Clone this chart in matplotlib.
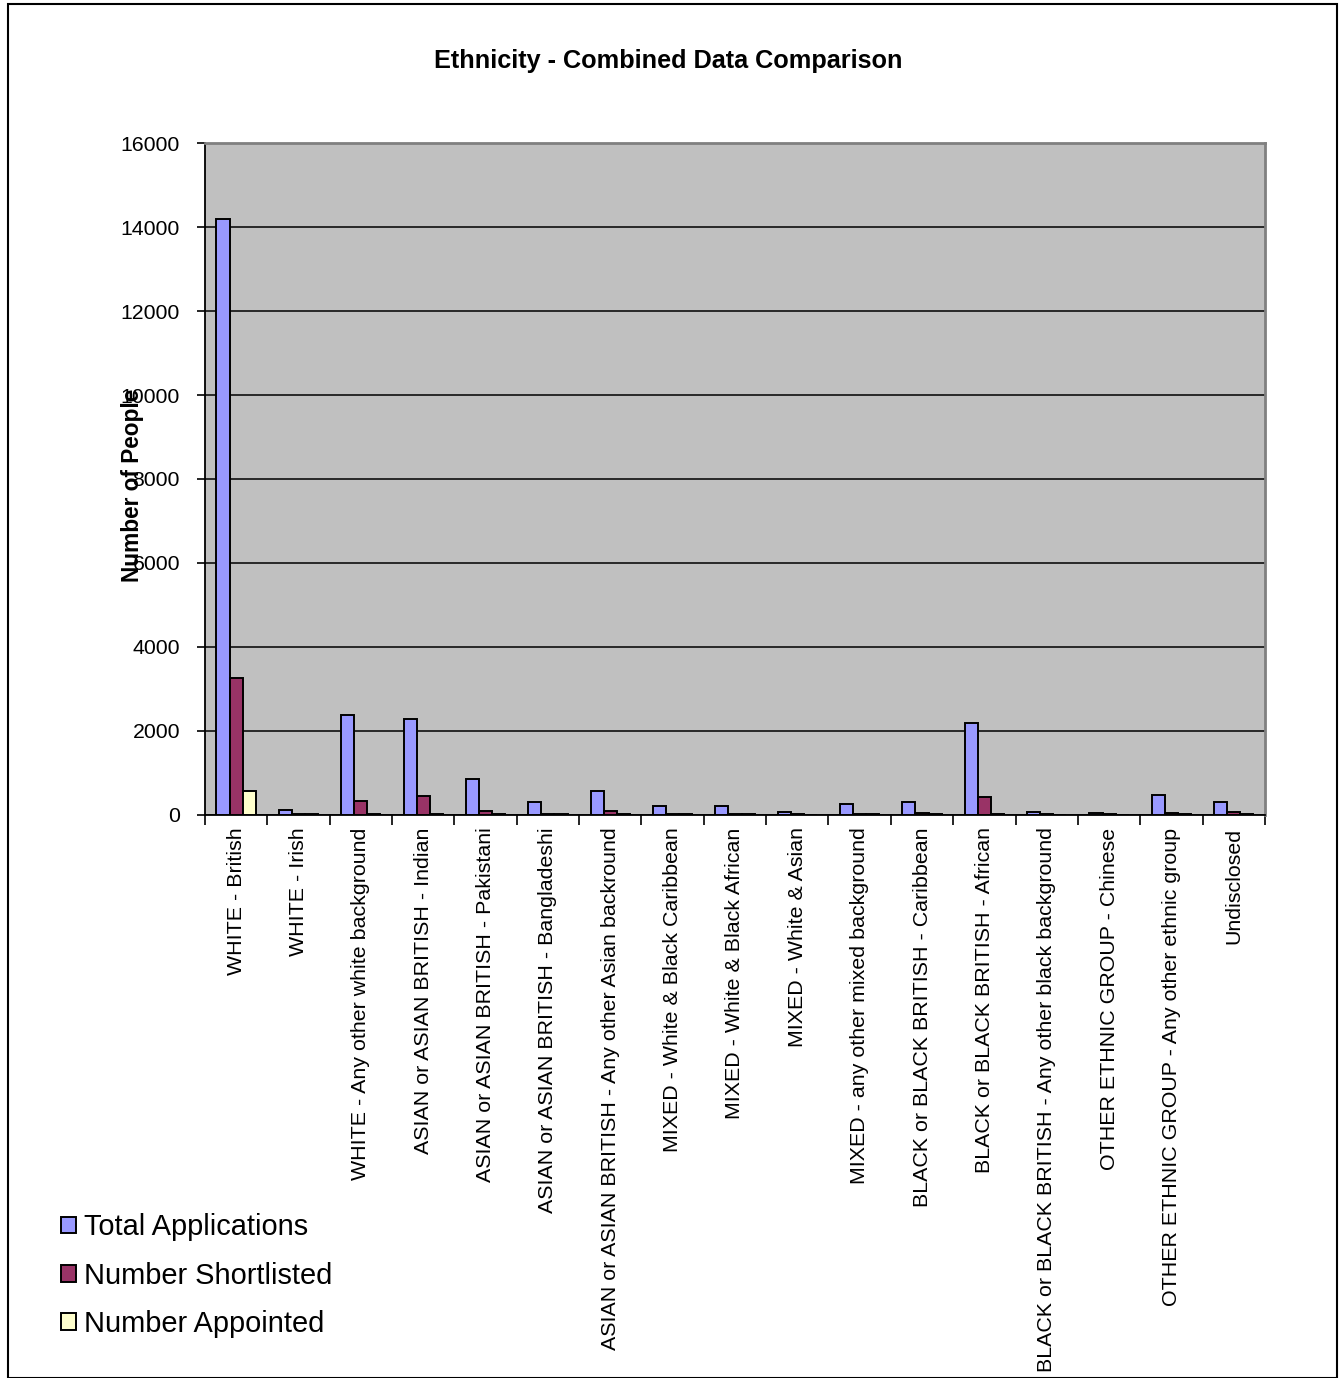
import numpy as np
import matplotlib
matplotlib.use('Agg')
import matplotlib.pyplot as plt
from matplotlib.patches import Rectangle

plt.rcParams['font.family'] = ['Liberation Sans', 'DejaVu Sans']

categories = [
    'WHITE - British',
    'WHITE - Irish',
    'WHITE - Any other white background',
    'ASIAN or ASIAN BRITISH - Indian',
    'ASIAN or ASIAN BRITISH - Pakistani',
    'ASIAN or ASIAN BRITISH - Bangladeshi',
    'ASIAN or ASIAN BRITISH - Any other Asian backround',
    'MIXED - White & Black Caribbean',
    'MIXED - White & Black African',
    'MIXED - White & Asian',
    'MIXED - any other mixed background',
    'BLACK or BLACK BRITISH - Caribbean',
    'BLACK or BLACK BRITISH - African',
    'BLACK or BLACK BRITISH - Any other black background',
    'OTHER ETHNIC GROUP - Chinese',
    'OTHER ETHNIC GROUP - Any other ethnic group',
    'Undisclosed',
]

total_applications = [14180, 110, 2380, 2290, 860, 310, 570, 210, 210, 80, 260, 310, 2200, 80, 50, 470, 320]
number_shortlisted = [3270, 25, 330, 450, 100, 25, 85, 20, 20, 15, 20, 50, 420, 15, 20, 50, 80]
number_appointed = [580, 20, 30, 30, 25, 15, 25, 15, 15, 10, 15, 20, 30, 10, 10, 20, 25]

series = [
    ('Total Applications', total_applications, '#9999FF'),
    ('Number Shortlisted', number_shortlisted, '#993366'),
    ('Number Appointed', number_appointed, '#FFFFCC'),
]

fig = plt.figure(figsize=(13.43, 13.78), dpi=100)
ax = fig.add_axes([0.1526, 0.4086, 0.7893, 0.4876])
ax.set_facecolor('#C0C0C0')

x = np.arange(len(categories))
w = 0.21
for k, (name, vals, col) in enumerate(series):
    ax.bar(x + (k - 1) * w, vals, width=w, color=col, edgecolor='black',
           linewidth=1.4, label=name, zorder=3)

ax.set_xlim(-0.5, len(categories) - 0.5)
ax.set_ylim(0, 16000)
ax.set_yticks(np.arange(0, 16001, 2000))
ax.yaxis.grid(True, color='black', linewidth=1.1, zorder=1)

ax.set_xticks(x)
ax.set_xticklabels(categories, rotation=90, ha='center', va='top', fontsize=15.4)
ax.set_xticks(np.arange(-0.5, len(categories), 1), minor=True)
ax.tick_params(axis='x', which='major', length=0, pad=9)
ax.tick_params(axis='x', which='minor', length=7, width=1.2, direction='out')
ax.tick_params(axis='y', length=6, width=1.2, pad=12, labelsize=15.3)

for side in ['top', 'right']:
    ax.spines[side].set_color('#808080')
    ax.spines[side].set_linewidth(2)
for side in ['left', 'bottom']:
    ax.spines[side].set_color('black')
    ax.spines[side].set_linewidth(1.3)

fig.text(0.4975, 0.956, 'Ethnicity - Combined Data Comparison', ha='center',
         va='center', fontsize=18.2, fontweight='bold')
fig.text(0.099, 0.648, 'Number of People', ha='center', va='center',
         rotation=90, fontsize=16.3, fontweight='bold')

fig.legend(loc='upper left', bbox_to_anchor=(0.037, 0.128), frameon=False,
           fontsize=20.9, handlelength=0.5, handleheight=0.5,
           handletextpad=0.28, labelspacing=0.7, borderaxespad=0)

fig.patches.append(Rectangle((0.006, 0.0), 0.9895, 0.997, transform=fig.transFigure,
                             fill=False, edgecolor='black', linewidth=1.5))

fig.savefig('out.png', dpi=100)
